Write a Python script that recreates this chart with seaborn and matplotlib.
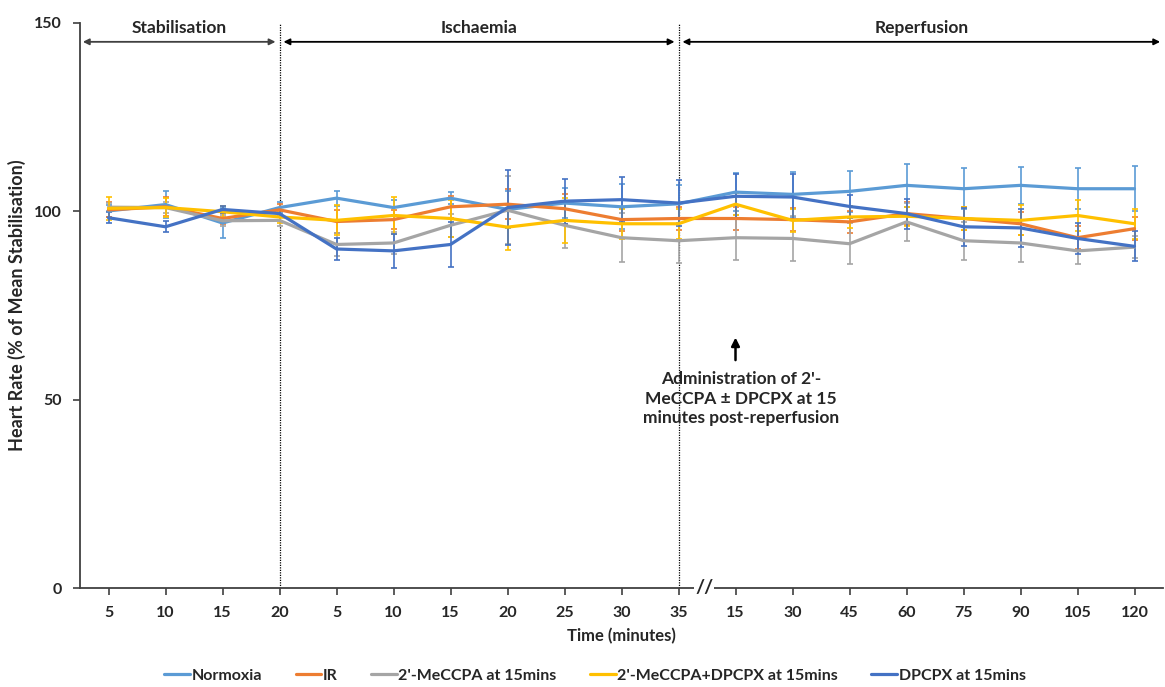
import numpy as np
import pandas as pd
import matplotlib
matplotlib.use("Agg")
import matplotlib.pyplot as plt
import seaborn as sns

# ---- data ----
time_labels = ["5", "10", "15", "20",
               "5", "10", "15", "20", "25", "30", "35",
               "15", "30", "45", "60", "75", "90", "105", "120"]

normoxia = [100.1, 101.8, 96.9, 101.0, 103.5, 101.0, 103.5, 100.5, 102.2, 101.2, 102.0,
            105.1, 104.5, 105.3, 106.9, 106.0, 106.9, 106.0, 106.0]
normoxia_err = [1.5, 3.5, 4.0, 1.5, 2.0, 2.0, 1.5, 5.0, 4.0, 6.0, 5.0,
                5.0, 6.0, 5.5, 5.7, 5.5, 5.0, 5.5, 6.0]

ir = [100.4, 101.2, 98.1, 100.4, 97.3, 97.8, 101.2, 101.9, 100.7, 97.8, 98.1,
      98.1, 97.8, 97.2, 99.4, 98.1, 96.7, 93.0, 95.4]
ir_err = [2.0, 2.5, 1.5, 1.5, 3.0, 2.5, 3.0, 4.0, 4.0, 3.0, 3.0,
          3.0, 3.0, 3.0, 3.0, 3.0, 3.0, 3.0, 3.0]

mecpa = [101.1, 101.0, 97.5, 97.6, 91.2, 91.6, 96.3, 100.3, 96.3, 93.0, 92.2,
         93.0, 92.8, 91.4, 97.2, 92.2, 91.6, 89.5, 90.5]
mecpa_err = [1.0, 1.5, 1.5, 1.5, 3.0, 3.0, 3.0, 9.0, 6.0, 6.5, 6.0,
             6.0, 6.0, 5.5, 5.0, 5.0, 5.0, 3.5, 3.0]

mecpa_dpcpx = [100.8, 101.0, 99.9, 98.5, 97.6, 98.9, 98.1, 95.8, 97.6, 96.7, 96.7,
               101.9, 97.6, 98.5, 98.7, 98.1, 97.6, 98.9, 96.7]
mecpa_dpcpx_err = [3.0, 2.5, 1.5, 1.5, 4.0, 5.0, 5.0, 6.0, 6.0, 4.0, 4.0,
                   3.0, 3.0, 3.0, 2.5, 3.0, 4.0, 4.0, 4.0]

dpcpx = [98.3, 95.9, 100.5, 99.4, 90.0, 89.5, 91.2, 101.0, 102.7, 103.1, 102.2,
         104.0, 103.8, 101.3, 99.4, 95.9, 95.6, 92.8, 90.7]
dpcpx_err = [1.5, 1.5, 1.0, 1.0, 3.0, 4.5, 6.0, 10.0, 6.0, 6.0, 6.0,
             6.0, 6.0, 3.0, 4.0, 5.0, 5.0, 4.0, 4.0]

series_names = ["Normoxia", "IR", "2'-MeCCPA at 15mins",
                "2'-MeCCPA+DPCPX at 15mins", "DPCPX at 15mins"]
series_vals = [normoxia, ir, mecpa, mecpa_dpcpx, dpcpx]
series_errs = [normoxia_err, ir_err, mecpa_err, mecpa_dpcpx_err, dpcpx_err]
colors = ["#5B9BD5", "#ED7D31", "#A5A5A5", "#FFC000", "#4472C4"]

phase_names = ["Stabilisation", "Ischaemia", "Reperfusion"]
annotation_text = "Administration of 2'-\nMeCCPA \u00b1 DPCPX at 15\nminutes post-reperfusion"

# ---- build long-form table ----
idx = np.arange(len(time_labels))
rows = []
for name, vals, errs in zip(series_names, series_vals, series_errs):
    for i, (v, e) in enumerate(zip(vals, errs)):
        rows.append({"pos": i, "value": v, "err": e, "group": name})
df = pd.DataFrame(rows)

sns.set_style("white")
plt.rcParams['font.family'] = ['Lato', 'DejaVu Sans']

fig = plt.figure(figsize=(11.65, 6.87), dpi=100)
ax = fig.add_axes([80 / 1165, 1 - 588 / 687, (1163 - 80) / 1165, (588 - 23) / 687])

pal = dict(zip(series_names, colors))
# error bars
for name in series_names:
    sub = df[df.group == name]
    ax.errorbar(sub["pos"], sub["value"], yerr=sub["err"], fmt="none",
                ecolor=pal[name], elinewidth=1.2, capsize=2.5, capthick=1.2, zorder=2)
sns.lineplot(data=df, x="pos", y="value", hue="group", hue_order=series_names,
             palette=pal, linewidth=2.3, ax=ax, legend=True, zorder=3)

ax.set_xlim(-0.5, len(time_labels) - 0.5)
ax.set_ylim(0, 150)
ax.set_yticks([0, 50, 100, 150])
ax.set_xticks(idx)
ax.set_xticklabels(time_labels)
for lab in ax.get_xticklabels() + ax.get_yticklabels():
    lab.set_fontweight("bold")
    lab.set_fontsize(11.5)
    lab.set_color("#262626")

for s in ["top", "right"]:
    ax.spines[s].set_visible(False)
for s in ["left", "bottom"]:
    ax.spines[s].set_color("#404040")
    ax.spines[s].set_linewidth(1.3)
ax.tick_params(axis="both", direction="out", length=5, width=1.2, color="#404040",
               bottom=True, left=True)
ax.tick_params(axis="x", pad=8)
ax.tick_params(axis="y", pad=8)

ax.set_xlabel("Time (minutes)", fontsize=12, fontweight="bold", color="#262626", labelpad=6)
ax.set_ylabel("Heart Rate (% of Mean Stabilisation)", fontsize=13, fontweight="bold",
              color="#262626")
ax.yaxis.set_label_coords(-0.05, 0.5)

# phase separators
for xv in [3, 10]:
    ax.axvline(xv, ymin=0, ymax=1, color="black", linestyle=(0, (1, 1)), linewidth=0.9, zorder=1)

# phase arrows
arrow_y = 145.0
spans = [(-0.45, 2.93), (3.07, 9.93), (10.07, 18.45)]
arrow_cols = ["#404040", "black", "black"]
for (x0, x1), nm, ac in zip(spans, phase_names, arrow_cols):
    ax.annotate("", xy=(x1, arrow_y), xytext=(x0, arrow_y),
                arrowprops=dict(arrowstyle="<|-|>", color=ac, lw=1.3,
                                mutation_scale=9, shrinkA=0, shrinkB=0))
    ax.text((x0 + x1) / 2, 148.8, nm, ha="center", va="center", fontsize=12.5,
            fontweight="bold", color="#262626")

# axis break marker
ax.text(10.45, 0, "//", ha="center", va="center", fontsize=14, color="#262626",
        clip_on=False, fontweight="bold",
        bbox=dict(boxstyle="square,pad=0.05", fc="white", ec="none"))

# administration annotation
ax.annotate("", xy=(11.0, 66.5), xytext=(11.0, 60.5),
            arrowprops=dict(arrowstyle="-|>", color="black", lw=1.8, mutation_scale=12,
                            shrinkA=0, shrinkB=0))
ax.text(11.1, 50.3, annotation_text, ha="center", va="center", fontsize=12.5,
        fontweight="bold", color="#262626", linespacing=1.3)

# legend
handles, labels = ax.get_legend_handles_labels()
ax.legend(handles, labels, loc="center", bbox_to_anchor=(515 / 1083, -0.155),
          ncol=5, frameon=False, handlelength=1.6, handletextpad=0.1,
          columnspacing=2.1, prop={"weight": "bold", "size": 11.5})
for t in ax.get_legend().get_texts():
    t.set_color("#262626")

fig.savefig("out.png", dpi=100)
